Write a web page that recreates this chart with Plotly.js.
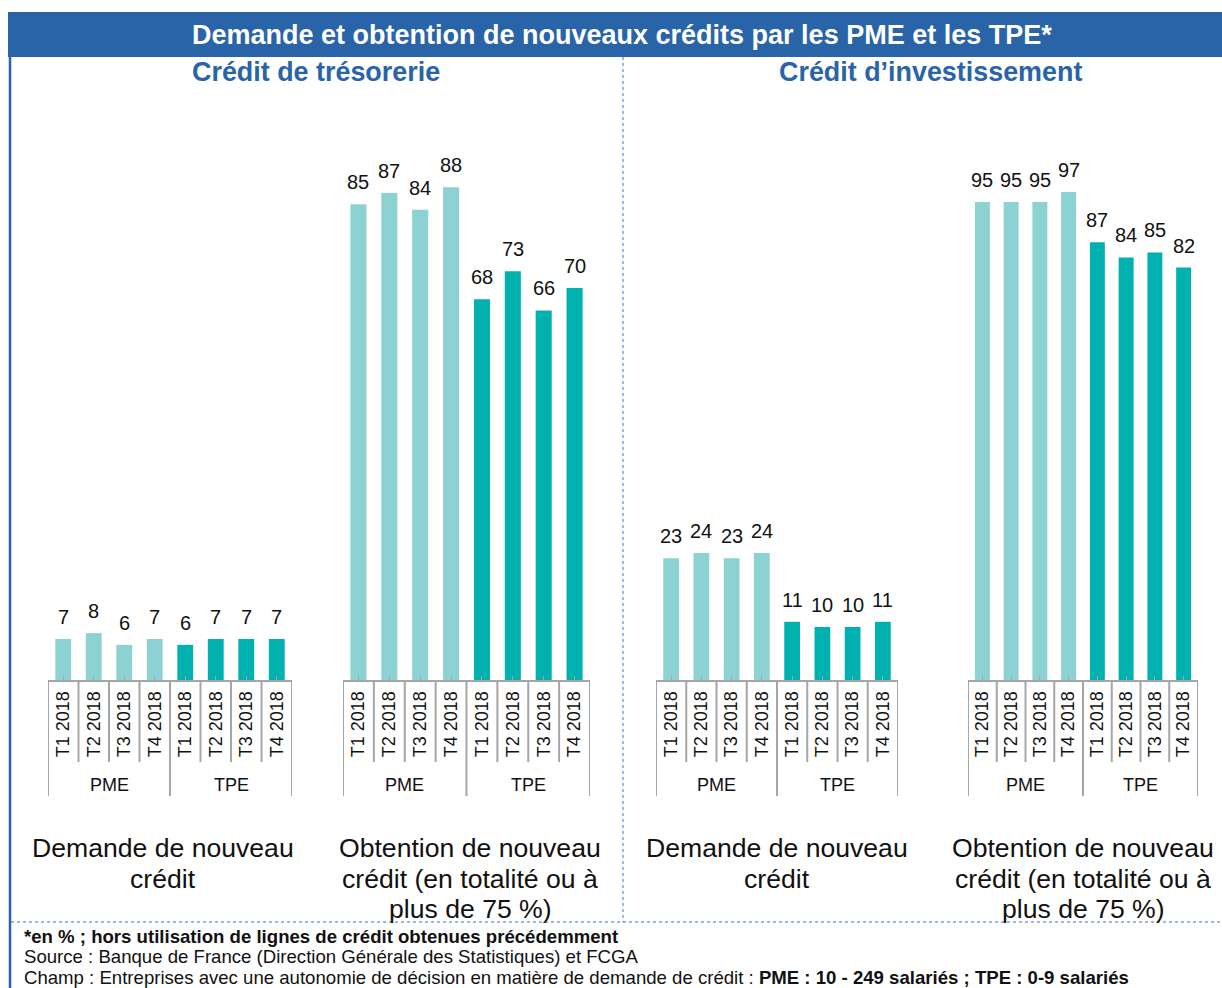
<!DOCTYPE html>
<html>
<head>
<meta charset="utf-8">
<script src="https://cdn.plot.ly/plotly-3.0.1.min.js"></script>
<style>html,body{margin:0;padding:0;background:#fff;}#chart{width:1222px;height:988px;}</style>
</head>
<body>
<div id="chart"></div>
<script>
// ---- data ----
const quarters = ["T1 2018", "T2 2018", "T3 2018", "T4 2018"];
const groups = ["PME", "TPE"];
const tresoDemandePME = [7, 8, 6, 7];
const tresoDemandeTPE = [6, 7, 7, 7];
const tresoObtentionPME = [85, 87, 84, 88];
const tresoObtentionTPE = [68, 73, 66, 70];
const investDemandePME = [23, 24, 23, 24];
const investDemandeTPE = [11, 10, 10, 11];
const investObtentionPME = [95, 95, 95, 97];
const investObtentionTPE = [87, 84, 85, 82];
const panelCaptions = [
  ["Demande de nouveau", "crédit"],
  ["Obtention de nouveau", "crédit (en totalité ou à", "plus de 75 %)"],
  ["Demande de nouveau", "crédit"],
  ["Obtention de nouveau", "crédit (en totalité ou à", "plus de 75 %)"]
];
const mainTitle = "Demande et obtention de nouveaux crédits par les PME et les TPE*";
const subTitles = ["Crédit de trésorerie", "Crédit d’investissement"];
const footnotes = [
  "<b>*en % ; hors utilisation de lignes de crédit obtenues précédemment</b>",
  "Source : Banque de France (Direction Générale des Statistiques) et FCGA",
  "Champ : Entreprises avec une autonomie de décision en matière de demande de crédit : <b>PME : 10 - 249 salariés ; TPE : 0-9 salariés</b>"
];

// ---- styling / layout helpers ----
const W = 1222, H = 988;
const px = p => p / W;
const py = p => 1 - p / H;
const colPME = "#8DD2D2";
const colTPE = "#00B1B0";
const blue = "#2964A9";
const gray = "#A6A6A6";
const FONT = "Liberation Sans, Arial, sans-serif";

const panels = [
  {pme: tresoDemandePME, tpe: tresoDemandeTPE, x0: 48, x1: 292, ymax: 99.0, cx: 163},
  {pme: tresoObtentionPME, tpe: tresoObtentionTPE, x0: 343, x1: 590, ymax: 103.6, cx: 470},
  {pme: investDemandePME, tpe: investDemandeTPE, x0: 656, x1: 898, ymax: 109.6, cx: 777},
  {pme: investObtentionPME, tpe: investObtentionTPE, x0: 968, x1: 1198, ymax: 115.3, cx: 1083}
];

const axisBottom = 680, axisTop = 100;
const traces = [];
const layout = {
  width: W, height: H,
  margin: {l: 0, r: 0, t: 0, b: 0},
  paper_bgcolor: "#fff", plot_bgcolor: "rgba(0,0,0,0)",
  showlegend: false,
  barmode: "overlay",
  font: {family: FONT, color: "#000"},
  shapes: [], annotations: []
};

const nQ = quarters.length;
const tickvals = [], ticktext = [];
groups.forEach((g, gi) => quarters.forEach((q, qi) => { tickvals.push(gi * nQ + qi); ticktext.push(q); }));

panels.forEach((p, k) => {
  const n = k + 1;
  const xa = "x" + (n === 1 ? "" : n), ya = "y" + (n === 1 ? "" : n);
  const series = [p.pme, p.tpe];
  series.forEach((vals, gi) => {
    const xs = vals.map((v, i) => gi * nQ + i);
    traces.push({
      type: "bar", x: xs, y: vals, xaxis: xa, yaxis: ya,
      width: 0.52, marker: {color: gi === 0 ? colPME : colTPE, line: {width: 0}},
      hoverinfo: "skip"
    });
    vals.forEach((v, i) => {
      layout.annotations.push({
        xref: xa, yref: ya, x: gi * nQ + i, y: v, text: String(v),
        showarrow: false, yanchor: "bottom", yshift: 9,
        font: {size: 20, color: "#111", family: FONT}
      });
    });
    layout.annotations.push({
      xref: xa, yref: "paper", x: gi * nQ + (nQ - 1) / 2, y: py(785),
      text: groups[gi], showarrow: false, yanchor: "middle",
      font: {size: 18, color: "#111", family: FONT}
    });
  });
  layout["xaxis" + (n === 1 ? "" : n)] = {
    domain: [px(p.x0), px(p.x1)], anchor: ya,
    range: [-0.5, 2 * nQ - 0.5], tickvals: tickvals, ticktext: ticktext,
    tickangle: -90, tickfont: {size: 18, color: "#111", family: FONT},
    ticklabelstandoff: 2,
    showline: true, linecolor: gray, linewidth: 2,
    ticks: "inside", ticklen: 4, tickcolor: gray, tickwidth: 1,
    showgrid: false, zeroline: false, fixedrange: true
  };
  layout["yaxis" + (n === 1 ? "" : n)] = {
    domain: [py(axisBottom), py(axisTop)], anchor: xa,
    range: [0, p.ymax], visible: false, fixedrange: true
  };
  // category dividers
  for (let b = 0; b <= 2 * nQ; b++) {
    const outer = (b % nQ === 0);
    layout.shapes.push({
      type: "line", xref: xa, yref: "paper", x0: b - 0.5, x1: b - 0.5,
      y0: py(axisBottom), y1: py(outer ? 796 : 762),
      line: {color: gray, width: 2}
    });
  }
  // captions
  panelCaptions[k].forEach((t, li) => {
    layout.annotations.push({
      xref: "paper", yref: "paper", x: px(p.cx), y: py(848 + li * 30.5),
      text: t, showarrow: false, xanchor: "center", yanchor: "middle",
      font: {size: 26.6, color: "#111", family: FONT}
    });
  });
});

// frame & title bar
layout.shapes.push(
  {type: "rect", xref: "paper", yref: "paper", x0: px(8), x1: 1, y0: py(57), y1: py(12), fillcolor: blue, line: {width: 0}},
  {type: "line", xref: "paper", yref: "paper", x0: px(10), x1: px(10), y0: py(57), y1: 0, line: {color: blue, width: 2.5}},
  {type: "line", xref: "paper", yref: "paper", x0: px(623), x1: px(623), y0: py(57), y1: py(922), line: {color: "#3A72C0", width: 1, dash: "dot"}},
  {type: "line", xref: "paper", yref: "paper", x0: px(11), x1: 1, y0: py(922), y1: py(922), line: {color: "#3A72C0", width: 1, dash: "dot"}}
);
layout.annotations.push({
  xref: "paper", yref: "paper", x: px(622), y: py(35), text: "<b>" + mainTitle + "</b>",
  showarrow: false, xanchor: "center", yanchor: "middle",
  font: {size: 27, color: "#fff", family: FONT}
});
[316, 930].forEach((cx, i) => {
  layout.annotations.push({
    xref: "paper", yref: "paper", x: px(cx), y: py(72), text: "<b>" + subTitles[i] + "</b>",
    showarrow: false, xanchor: "center", yanchor: "middle",
    font: {size: 26.9, color: blue, family: FONT}
  });
});
footnotes.forEach((t, i) => {
  layout.annotations.push({
    xref: "paper", yref: "paper", x: px(22), y: py(936 + i * 20.5), text: t,
    showarrow: false, xanchor: "left", yanchor: "middle",
    font: {size: 18.6, color: "#111", family: FONT}
  });
});

Plotly.newPlot("chart", traces, layout, {displayModeBar: false, staticPlot: true});
</script>
</body>
</html>
